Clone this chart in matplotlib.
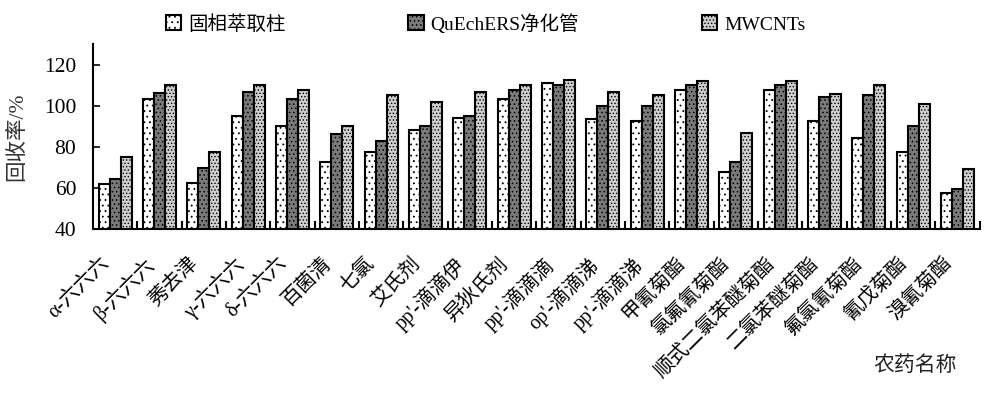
import numpy as np
import matplotlib
matplotlib.use('Agg')
import matplotlib.pyplot as plt
import matplotlib.transforms as mtransforms

plt.rcParams['font.family'] = ['Liberation Serif', 'Noto Sans CJK SC', 'DejaVu Sans']
plt.rcParams['hatch.linewidth'] = 0.6

# 农药名称
pesticides = ['α-六六六', 'β-六六六', '莠去津', 'γ-六六六', 'δ-六六六', '百菌清', '七氯',
              '艾氏剂', "pp'-滴滴伊", '异狄氏剂', "pp'-滴滴滴", "op'-滴滴涕", "pp'-滴滴涕",
              '甲氰菊酯', '氯氟氰菊酯', '顺式二氯苯醚菊酯', '二氯苯醚菊酯', '氟氯氰菊酯',
              '氰戊菊酯', '溴氰菊酯']

# 回收率/%
spe = [62, 103, 62.5, 95, 90, 72.5, 77.5, 88, 93.8, 103, 111, 93.7, 92.7, 107.5,
       67.8, 107.5, 92.7, 84.3, 77.5, 57.3]
quechers = [64.5, 106, 69.5, 106.5, 103, 86.2, 83, 90, 95, 107.5, 110, 100, 100, 110,
            72.8, 110, 104.2, 105, 90, 59.5]
mwcnts = [75, 110, 77.5, 110, 107.5, 90, 105, 101.7, 106.8, 110, 112.4, 106.8, 105,
          112, 86.8, 112, 105.6, 110, 101, 69.3]

series = [('固相萃取柱', spe, 'white', '...'),
          ('QuEchERS净化管', quechers, '#7a7a7a', '....'),
          ('MWCNTs', mwcnts, '#cfcfcf', '.....')]

fig = plt.figure(figsize=(10.03, 3.96), dpi=100)
ax = fig.add_axes([0.0927, 0.4217, 0.884, 0.4673])

x = np.arange(len(pesticides))
w = 0.25
for i, (name, vals, fc, hatch) in enumerate(series):
    ax.bar(x + (i - 1) * w, vals, width=w, color=fc, edgecolor='black',
           linewidth=1.5, hatch=hatch, label=name)

ax.set_xlim(-0.5, len(pesticides) - 0.5)
ax.set_ylim(40, 130)
ax.set_yticks([40, 60, 80, 100, 120])
ax.tick_params(axis='y', direction='in', length=5, width=1.2, labelsize=15.5, pad=12)

ax.set_xticks(x)
ax.set_xticklabels(pesticides, rotation=45, ha='right', rotation_mode='anchor', fontsize=14.5)
ax.tick_params(axis='x', which='major', length=0, pad=16)
ax.set_xticks(np.arange(0.5, len(pesticides) - 0.4, 1), minor=True)
ax.tick_params(axis='x', which='minor', direction='in', length=6, width=1.5)
shift = mtransforms.ScaledTranslation(-15 / 100, -3 / 100, fig.dpi_scale_trans)
for lab in ax.get_xticklabels():
    lab.set_transform(lab.get_transform() + shift)

for s in ['top', 'right']:
    ax.spines[s].set_visible(False)
for s in ['left', 'bottom']:
    ax.spines[s].set_linewidth(1.5)

ax.set_ylabel('回收率/%', fontsize=15.5, color='#333333', labelpad=12)
fig.text(0.912, 0.075, '农药名称', fontsize=15, ha='center', va='center', color='#222222')

fig.legend(loc='center', bbox_to_anchor=(0.484, 0.94), ncol=3, frameon=False,
           fontsize=14, handlelength=0.8, handleheight=0.8, handletextpad=0.35,
           columnspacing=6.3)

fig.savefig('out.png', dpi=100)
